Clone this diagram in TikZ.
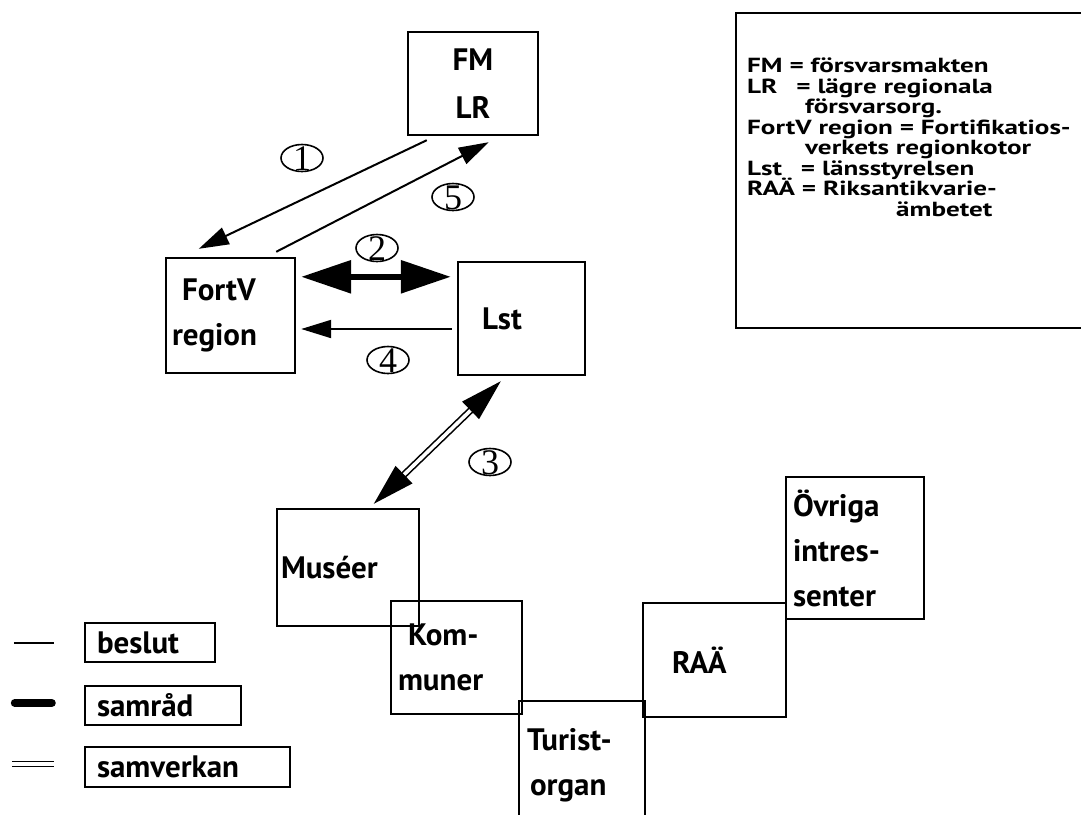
\documentclass[tikz,border=0pt]{standalone}
\usepackage{fontspec}
\setmainfont{PT Sans}
\newfontfamily\numfont{Liberation Serif}
\newfontfamily\keyfont{PT Sans}[FakeStretch=1.33]
\usetikzlibrary{arrows.meta,shapes.geometric,positioning}
\newcommand\circnr[1]{\smash{\raisebox{-.34em}{#1}}}
\setlength{\lineskiplimit}{-5pt}

\begin{document}
\begin{tikzpicture}[x=0.5pt,y=-0.5pt,line join=miter]
    \tikzstyle{org}=[draw,line width=1.2pt,align=left,inner ysep=0pt,
                     font=\bfseries\fontsize{15.5}{22.5}\selectfont]
    \tikzstyle{legbox}=[org,minimum height=19.5pt,inner xsep=6pt]
    \tikzstyle{num}=[draw,ellipse,line width=0.8pt,minimum width=21pt,
                     minimum height=13.5pt,inner sep=0pt,
                     font=\numfont\fontsize{18}{18}\selectfont]
    \tikzstyle{beslut}=[->,>={Triangle[length=15pt,width=9pt]},line width=1pt]
    \tikzstyle{samrad}=[<->,>={Triangle[length=25pt,width=16pt]},line width=3pt]
    \tikzstyle{samverkan}=[<->,>={Triangle[length=21pt,width=12pt]},
                           double,line width=0.8pt,double distance=1.8pt]

    \useasboundingbox (0,0) rectangle (1081,814);

    \node[org,minimum height=51.5pt,text width=65pt,inner xsep=0pt,align=center,
          font=\bfseries\fontsize{15.5}{24}\selectfont] (fm) at (473,83.5) {FM\\LR};
    \node[org,minimum height=57.5pt,text width=58.5pt,inner xsep=3pt]   (fortv)    at (230.5,315.5) {\hspace*{5pt}FortV\\region};
    \node[org,minimum height=56.5pt,text width=39.5pt,inner xsep=12pt]  (lst)      at (521.5,318.5) {Lst};
    \node[org,minimum height=58.5pt,text width=67pt,inner xsep=2pt]     (museer)   at (348,567.5)   {Muséer};
    \node[org,minimum height=56.5pt,text width=58.5pt,inner xsep=3.5pt] (kommuner) at (456.5,657.5) {\hspace*{5pt}Kom-\\muner};
    \node[org,minimum height=64.5pt,text width=55pt,inner xsep=4pt]     (turist)   at (582,765.5)   {Turist-\\\hspace*{1.5pt}organ};
    \node[org,minimum height=57pt,text width=42.5pt,inner xsep=14.5pt]  (raa)      at (714.5,660)   {RAÄ};
    \node[org,minimum height=71pt,text width=62pt,inner xsep=3.5pt]     (ovriga)   at (855,548)     {Övriga\\intres-\\senter};

    % key
    \node[draw,line width=1.2pt,minimum width=182pt,minimum height=157.5pt] (keybox) at (918,170.5) {};
    \node[below right=23pt and 6pt of keybox.north west,align=left,inner sep=0pt,
          font=\keyfont\bfseries\fontsize{10.2}{10.25}\selectfont] (keytext)
        {FM = försvarsmakten\\
         LR\hspace{6pt} = lägre regionala\\
         \hspace*{29pt}försvarsorg.\\
         FortV region = Fortifikatios-\\
         \hspace*{29pt}verkets regionkotor\\
         Lst\hspace{6pt} = länsstyrelsen\\
         RAÄ = Riksantikvarie-\\
         \hspace*{74.5pt}ämbetet};

    \node[num] (n1) at (302,158) {\circnr{1}};
    \node[num] (n5) at (453,197) {\circnr{5}};
    \node[num] (n2) at (377,248) {\circnr{2}};
    \node[num] (n4) at (388,360) {\circnr{4}};
    \node[num] (n3) at (490,462) {\circnr{3}};

    \path ([xshift=10pt,yshift=-2pt]fm.south west)      edge[beslut]    ([xshift=17pt,yshift=4pt]fortv.north west)
          ([xshift=-10pt,yshift=2.5pt]fortv.north east) edge[beslut]    ([xshift=41pt,yshift=-3pt]fm.south west)
          ([xshift=2.5pt,yshift=-10pt]fortv.north east) edge[samrad]    ([xshift=-3pt,yshift=-8pt]lst.north west)
          ([xshift=-2.5pt,yshift=-5.25pt]lst.west)      edge[beslut]    ([xshift=2.5pt,yshift=-6.75pt]fortv.east)
          ([xshift=22pt,yshift=-2.5pt]lst.south west)   edge[samverkan] ([xshift=49pt,yshift=2pt]museer.north west);

    % legend
    \node[legbox,text width=53pt]                       (legbeslut)    at (150,642.5) {beslut};
    \node[legbox,text width=66pt]                       (legsamrad)    at (163,705.5) {samråd};
    \node[legbox,text width=90.5pt,minimum height=20pt] (legsamverkan) at (187.5,767) {samverkan};
    \draw[line width=1pt] ([xshift=-35pt]legbeslut.west) -- ([xshift=-15pt]legbeslut.west);
    \draw[line width=4pt,line cap=round] ([xshift=-34.5pt,yshift=1.25pt]legsamrad.west) -- ([xshift=-16pt,yshift=1.25pt]legsamrad.west);
    \draw[double,line width=0.9pt,double distance=1.6pt] ([xshift=-36pt,yshift=1.5pt]legsamverkan.west) -- ([xshift=-15pt,yshift=1.5pt]legsamverkan.west);
\end{tikzpicture}
\end{document}
